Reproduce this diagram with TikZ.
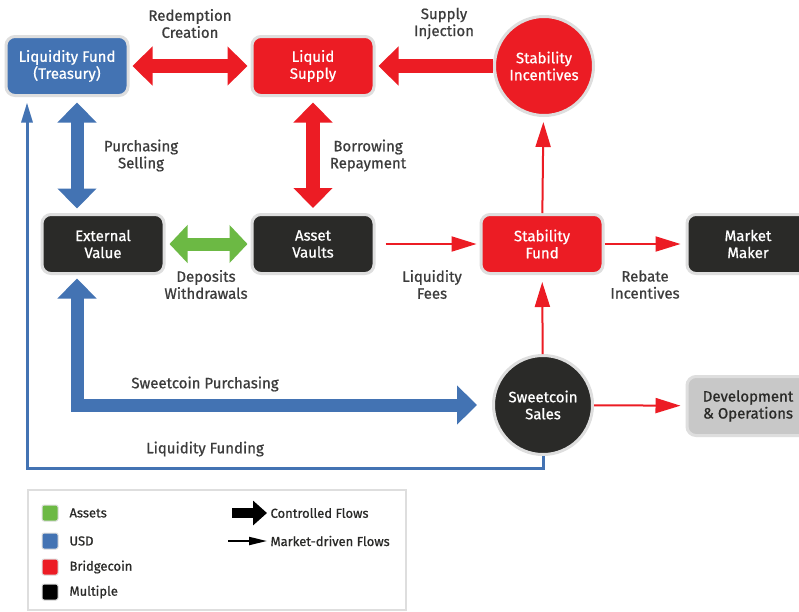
\documentclass[tikz,border=0pt]{standalone}
\usepackage{fontspec}
\setmainfont{Fira Sans}[FakeBold=0.8]
\usetikzlibrary{arrows.meta}

\definecolor{usdblue}{HTML}{4373B3}
\definecolor{coinred}{HTML}{EC1C24}
\definecolor{assetgreen}{HTML}{6CB944}
\definecolor{multiblack}{HTML}{2A2A28}
\definecolor{devgray}{HTML}{C8C8C8}
\definecolor{rimgray}{HTML}{DEDEDE}
\definecolor{labelgray}{HTML}{3C3C3C}

\begin{document}
\begin{tikzpicture}[
     x = 1pt, y = -1pt,
     font = \fontsize{15}{17}\selectfont
    ]
    \tikzstyle{box}=[rectangle, rounded corners=9pt, draw=rimgray, line width=3pt,
      minimum width=122pt, minimum height=59pt, inner sep=1pt, align=center, text=white]
    \tikzstyle{disc}=[circle, draw=rimgray, line width=3pt, minimum size=99pt,
      inner sep=0pt, align=center, text=white]
    \tikzstyle{flowlabel}=[align=center, text=labelgray]
    \tikzstyle{bigred}=[draw=coinred, line width=14pt, >={Triangle[length=20pt,width=38pt]}]
    \tikzstyle{bigblue}=[draw=usdblue, line width=13pt, >={Triangle[length=20pt,width=38pt]}]
    \tikzstyle{biggreen}=[draw=assetgreen, line width=13pt, >={Triangle[length=18pt,width=37pt]}]
    \tikzstyle{thinred}=[draw=coinred, line width=2pt, >={Triangle[length=25pt,width=15pt]}]
    \tikzstyle{thinblue}=[draw=usdblue, line width=3pt, >={Triangle[length=20pt,width=11pt]}]
    \tikzstyle{swatch}=[rectangle, rounded corners=2pt, draw=rimgray, line width=1pt,
      minimum size=16pt, inner sep=0pt]
    \tikzstyle{legtext}=[anchor=west, text=multiblack, font=\fontsize{13}{15}\selectfont]

    \useasboundingbox[fill=white] (0,0) rectangle (799,611);

    % columns and rows for the bent flows
    \coordinate (colA) at (77,0);
    \coordinate (colB) at (27,0);
    \coordinate (fundrow) at (0,468);

    % top row
    \node[box, fill=usdblue] (lf) at (67,66) {Liquidity Fund\\(Treasury)};
    \node[box, fill=coinred] (ls) at (313,66) {Liquid\\Supply};
    \node[disc, fill=coinred] (si) at (544,66) {Stability\\Incentives};

    % middle row
    \node[box, fill=multiblack] (ev) at (103,244) {External\\Value};
    \node[box, fill=multiblack] (av) at (313,244) {Asset\\Vaults};
    \node[box, fill=coinred] (sf) at (542,244) {Stability\\Fund};
    \node[box, fill=multiblack] (mm) at (748,244) {Market\\Maker};

    % bottom row
    \node[disc, fill=multiblack] (ss) at (543,405) {Sweetcoin\\Sales};
    \node[box, fill=devgray, text=multiblack] (dev) at (748,406) {Development\\\& Operations};

    % controlled flows
    \draw[bigred, <->, shorten <=3pt, shorten >=3pt] (lf) -- (ls);
    \draw[bigred, ->, shorten >=3pt] (si.west) -- (ls);
    \draw[bigblue, <->, shorten <=5.5pt, shorten >=4.5pt] (lf.south -| colA) -- (ev.north -| colA);
    \draw[bigred, <->, shorten <=5.5pt, shorten >=5pt] (ls) -- (av);
    \draw[biggreen, <->, shorten <=4pt, shorten >=3pt] (ev) -- (av);
    \draw[bigblue, <->, shorten <=3.5pt, shorten >=15pt] (ev.south -| colA) |- (ss.west);

    % market-driven flows
    \draw[thinred, ->, shorten <=10pt, shorten >=3pt] (av) -- (sf);
    \draw[thinred, ->, shorten >=5pt] (sf) -- (mm);
    \draw[thinred, ->, shorten >=5pt] (sf) -- (si);
    \draw[thinred, ->, shorten >=7pt] (ss) -- (sf);
    \draw[thinred, ->, shorten >=5pt] (ss) -- (dev);
    \draw[thinblue, ->, shorten >=5.5pt] (ss.south) |- (colB |- fundrow) -- (lf.south -| colB);

    % flow labels
    \node[flowlabel] (redlbl) at (190,23.5) {Redemption\\Creation};
    \node[flowlabel] (suplbl) at (444,23.5) {Supply\\Injection};
    \node[flowlabel] (purlbl) at (141,155.5) {Purchasing\\Selling};
    \node[flowlabel] (borlbl) at (368,155.5) {Borrowing\\Repayment};
    \node[flowlabel] (deplbl) at (206,284.5) {Deposits\\Withdrawals};
    \node[flowlabel] (feelbl) at (432,284.5) {Liquidity\\Fees};
    \node[flowlabel] (reblbl) at (645,284.5) {Rebate\\Incentives};
    \node[flowlabel] (swplbl) at (205,384) {Sweetcoin Purchasing};
    \node[flowlabel] (funlbl) at (205,449) {Liquidity Funding};

    % legend
    \node[rectangle, draw=rimgray, line width=1.5pt, minimum width=378pt,
      minimum height=120pt, anchor=north west] (legend) at (27,489) {};
    \node[swatch, fill=assetgreen] (sqA) at (50,513) {};
    \node[swatch, fill=usdblue] (sqU) at (50,541) {};
    \node[swatch, fill=coinred] (sqB) at (50,567) {};
    \node[swatch, fill=black] (sqM) at (50,592) {};
    \node[legtext] (txA) at (66,513) {Assets};
    \node[legtext] (txU) at (66,541) {USD};
    \node[legtext] (txB) at (66,567) {Bridgecoin};
    \node[legtext] (txM) at (66,592) {Multiple};

    \coordinate (ctl) at (232,513);
    \coordinate (mkt) at (228,541);
    \node[legtext] (txC) at (267,513) {Controlled Flows};
    \node[legtext] (txD) at (267,541) {Market-driven Flows};
    \draw[line width=10pt, -{Triangle[length=14pt,width=24pt]}] (ctl) -- (txC.west);
    \draw[line width=2pt, -{Triangle[length=18pt,width=8pt]}] (mkt) -- (txD.west);
\end{tikzpicture}
\end{document}
